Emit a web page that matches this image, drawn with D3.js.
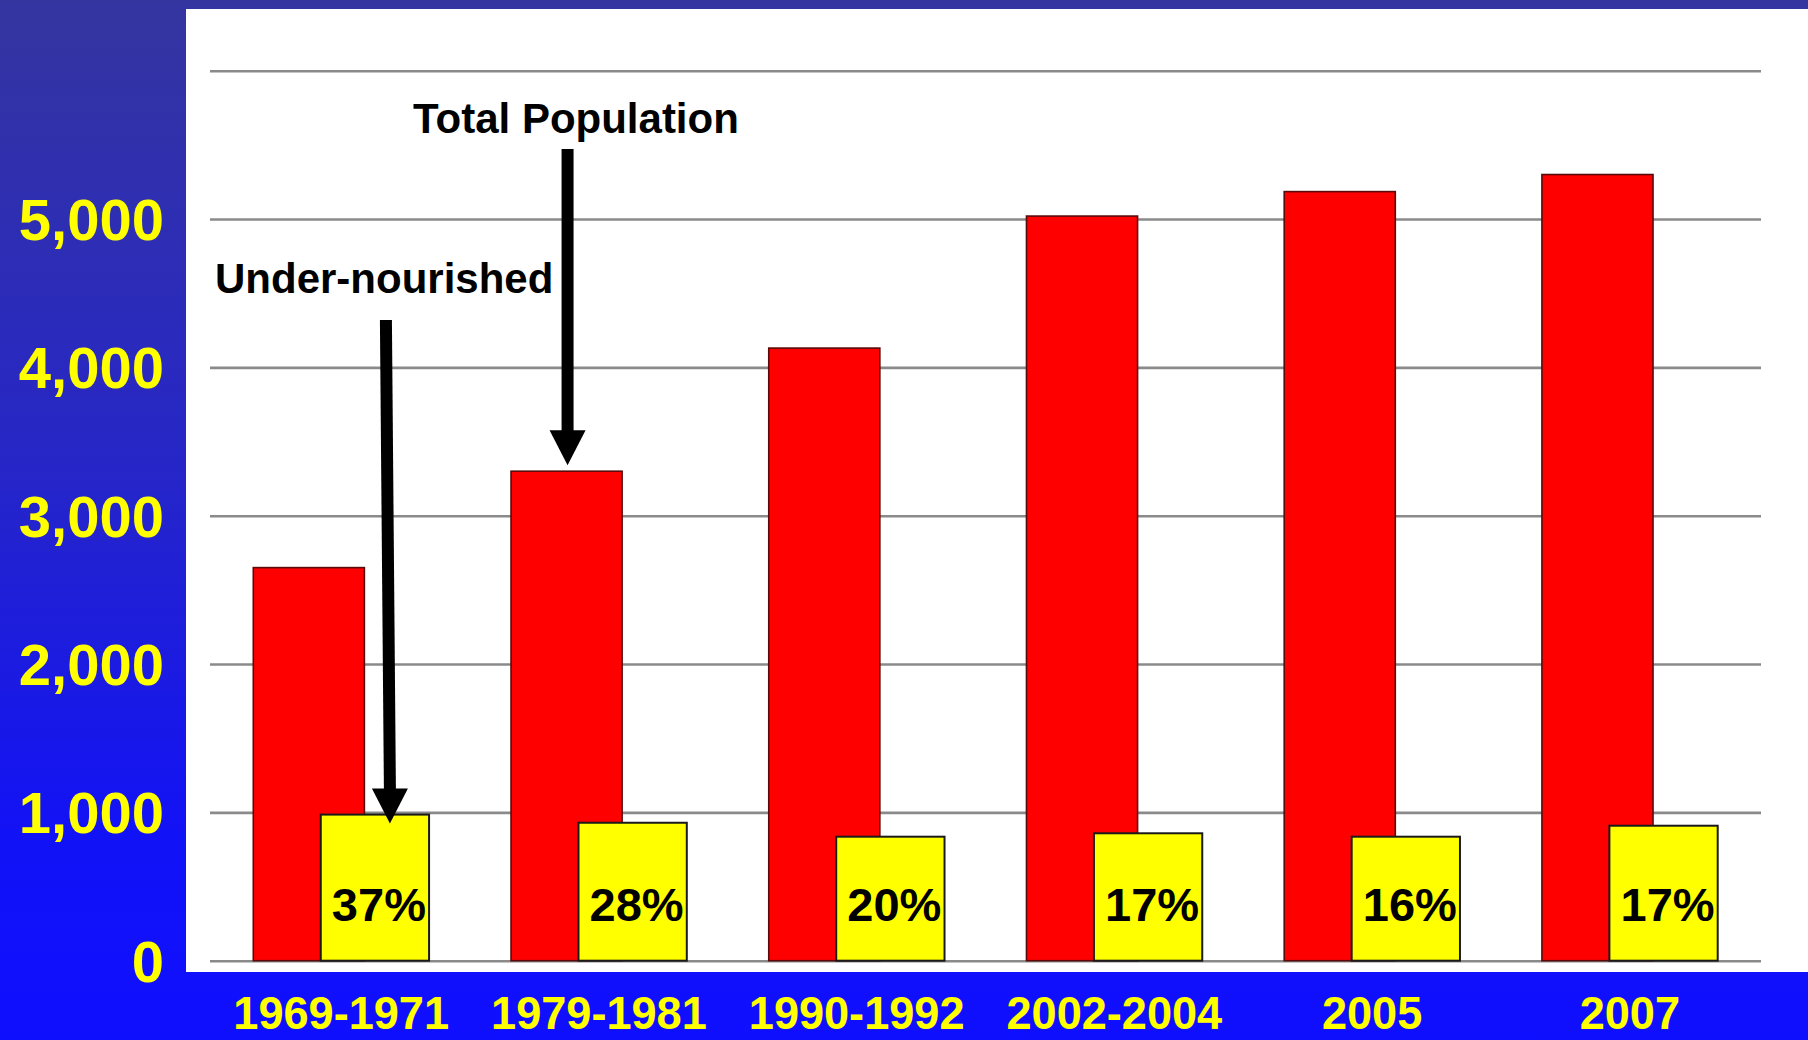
<!DOCTYPE html>
<html>
<head>
<meta charset="utf-8">
<script src="https://cdn.jsdelivr.net/npm/d3@7"></script>
<style>
  html, body { margin: 0; padding: 0; background: #1010ff; }
  svg { display: block; }
  text { font-family: "Liberation Sans", Arial, Helvetica, sans-serif; font-weight: bold; }
</style>
</head>
<body>
<svg id="chart" width="1808" height="1040"></svg>
<script>
// ---- data ----
const periods = ["1969-1971", "1979-1981", "1990-1992", "2002-2004", "2005", "2007"];
const totalPopulation = [2650, 3300, 4130, 5020, 5185, 5300];
const underNourished = [985, 930, 836, 859, 836, 910];
const shareLabels = ["37%", "28%", "20%", "17%", "16%", "17%"];
const gridTicks = [0, 1000, 2000, 3000, 4000, 5000, 6000];
const yTickLabels = [0, 1000, 2000, 3000, 4000, 5000];

const W = 1808, H = 1040;
const svg = d3.select("#chart");

// background gradient
const defs = svg.append("defs");
const grad = defs.append("linearGradient").attr("id", "bg").attr("x1", 0).attr("y1", 0).attr("x2", 0).attr("y2", 1);
grad.append("stop").attr("offset", "0%").attr("stop-color", "#3535a0");
grad.append("stop").attr("offset", "45%").attr("stop-color", "#2626c8");
grad.append("stop").attr("offset", "80%").attr("stop-color", "#1212f6");
grad.append("stop").attr("offset", "100%").attr("stop-color", "#0f0fff");
svg.append("rect").attr("width", W).attr("height", H).attr("fill", "url(#bg)");

// white plot panel
svg.append("rect").attr("x", 186).attr("y", 9).attr("width", W - 186).attr("height", 963).attr("fill", "#ffffff");

// scales
const x = d3.scaleBand().domain(periods).range([210, 1761]).paddingInner(0.318).paddingOuter(0.168);
const y = d3.scaleLinear().domain([0, 6000]).range([960.7, 70.7]);
const bw = x.bandwidth();
const redW = bw * 0.632;
const yelOff = bw * 0.3838;
const yelW = bw * 0.6162;

// gridlines
const grid = svg.append("g").attr("transform", "translate(210,0)")
  .call(d3.axisLeft(y).tickValues(gridTicks).tickSize(-(1761 - 210)).tickFormat(""));
grid.select(".domain").remove();
grid.selectAll(".tick line").attr("stroke", "#8a8a8a").attr("stroke-width", 2.6);

// y axis labels
const yAxis = svg.append("g").attr("transform", "translate(164,0)")
  .call(d3.axisLeft(y).tickValues(yTickLabels).tickSize(0).tickPadding(0).tickFormat(d3.format(",")));
yAxis.select(".domain").remove();
yAxis.selectAll(".tick text")
  .attr("fill", "#ffff00").attr("font-size", 58).attr("font-weight", "bold")
  .attr("font-family", "'Liberation Sans', Arial, sans-serif").attr("dy", "0.35em");

// red bars (total population)
svg.append("g").selectAll("rect").data(periods).join("rect")
  .attr("x", d => x(d))
  .attr("y", (d, i) => y(totalPopulation[i]))
  .attr("width", redW)
  .attr("height", (d, i) => y(0) - y(totalPopulation[i]))
  .attr("fill", "#ff0000").attr("stroke", "#5a0a0a").attr("stroke-width", 1.6);

// yellow bars (under-nourished)
svg.append("g").selectAll("rect").data(periods).join("rect")
  .attr("x", d => x(d) + yelOff)
  .attr("y", (d, i) => y(underNourished[i]))
  .attr("width", yelW)
  .attr("height", (d, i) => y(0) - y(underNourished[i]))
  .attr("fill", "#ffff00").attr("stroke", "#1a1a1a").attr("stroke-width", 2);

// percentage labels
svg.append("g").selectAll("text").data(periods).join("text")
  .attr("x", d => x(d) + yelOff + yelW / 2 + 4)
  .attr("y", 921)
  .attr("text-anchor", "middle")
  .attr("font-size", 47)
  .attr("fill", "#000")
  .text((d, i) => shareLabels[i]);

// x axis labels
const xAxis = svg.append("g").attr("transform", "translate(0,1029)")
  .call(d3.axisBottom(x).tickSize(0).tickPadding(0));
xAxis.select(".domain").remove();
xAxis.selectAll(".tick text")
  .attr("y", 0).attr("dy", null)
  .attr("fill", "#ffff00").attr("font-size", 47).attr("font-weight", "bold")
  .attr("font-family", "'Liberation Sans', Arial, sans-serif")
  .attr("transform", "scale(0.96,1)");

// annotations
svg.append("text").attr("x", 413).attr("y", 133).attr("font-size", 42).attr("fill", "#000").text("Total Population");
svg.append("text").attr("x", 215).attr("y", 293).attr("font-size", 42).attr("fill", "#000").text("Under-nourished");

function arrow(x0, y0, x1, y1) {
  const headH = 35, headW = 36;
  const g = svg.append("g");
  g.append("line").attr("x1", x0).attr("y1", y0).attr("x2", x1).attr("y2", y1 - headH + 2)
    .attr("stroke", "#000").attr("stroke-width", 12);
  g.append("path")
    .attr("d", `M${x1 - headW / 2},${y1 - headH} L${x1 + headW / 2},${y1 - headH} L${x1},${y1} Z`)
    .attr("fill", "#000");
}
// arrow to total population bar (second period)
const tpX = x(periods[1]) + redW / 2 + 1;
arrow(tpX, 149, tpX, y(totalPopulation[1]) - 6);
// arrow to under-nourished bar (first period)
const unX = x(periods[0]) + yelOff + yelW / 2 + 15;
arrow(unX - 4, 320, unX, y(underNourished[0]) + 9);
</script>
</body>
</html>
